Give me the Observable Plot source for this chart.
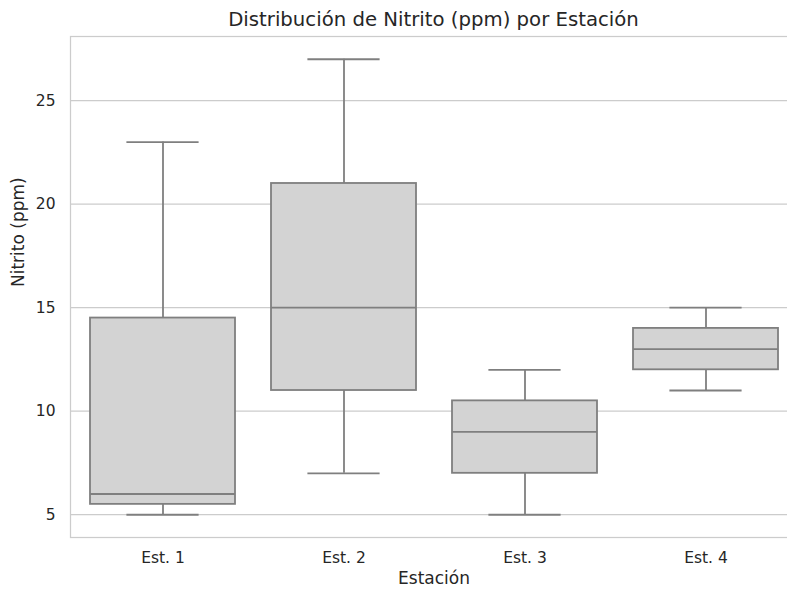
<!DOCTYPE html>
<html>
<head>
<meta charset="utf-8">
<script src="https://cdn.jsdelivr.net/npm/d3@7"></script>
<script src="https://cdn.jsdelivr.net/npm/@observablehq/plot@0.6"></script>
<style>
  html, body { margin: 0; padding: 0; background: #fff; width: 787px; height: 589px; overflow: hidden; }
  #wrap { position: relative; width: 787px; height: 589px; overflow: hidden; }
  #title { position: absolute; left: 0; top: 10px; width: 867px; text-align: center;
           font-family: "DejaVu Sans", sans-serif; font-size: 19.7px; line-height: 20px; color: #262626; white-space: nowrap; }
  #chart { position: absolute; left: 0; top: 0; width: 800px; height: 589px; }
  #chart svg { max-width: none !important; width: 800px !important; height: 589px !important; }
</style>
</head>
<body>
<div id="wrap">
  <div id="chart"></div>
  <div id="title">Distribución de Nitrito (ppm) por Estación</div>
</div>
<script>
const stations = ["Est. 1", "Est. 2", "Est. 3", "Est. 4"];
const whiskerLow = [5, 7, 5, 11];
const q1 = [5.5, 11, 7, 12];
const median = [6, 15, 9, 13];
const q3 = [14.5, 21, 10.5, 14];
const whiskerHigh = [23, 27, 12, 15];
const yTicks = [5, 10, 15, 20, 25];
const xLabel = "Estación";
const yLabel = "Nitrito (ppm)";

const rows = stations.map((s, i) => ({
  station: s, lo: whiskerLow[i], q1: q1[i], med: median[i], q3: q3[i], hi: whiskerHigh[i]
}));

const lineColor = "#7f7f7f";
const boxFill = "#d3d3d3";
const gridColor = "#cccccc";
const lw = 1.8;

const plot = Plot.plot({
  width: 800,
  height: 589,
  marginLeft: 70,
  marginRight: 3,
  marginTop: 36,
  marginBottom: 52,
  style: { fontFamily: "DejaVu Sans, sans-serif", color: "#262626", background: "#fff", overflow: "visible" },
  x: { type: "band", domain: stations, paddingInner: 0.2, paddingOuter: 0.1, label: null },
  y: { domain: [3.9, 28.1], label: null },
  marks: [
    Plot.gridY(yTicks, { stroke: gridColor, strokeOpacity: 1, strokeWidth: 1.25 }),
    Plot.frame({ stroke: gridColor, strokeOpacity: 1, strokeWidth: 1.25 }),
    Plot.axisY(yTicks, { tickSize: 0, tickPadding: 15, fontSize: 15.5, label: null }),
    Plot.axisX({ tickSize: 0, tickPadding: 14.5, fontSize: 15.5, label: null }),
    // whiskers
    Plot.ruleX(rows, { x: "station", y1: "q3", y2: "hi", stroke: lineColor, strokeWidth: lw }),
    Plot.ruleX(rows, { x: "station", y1: "lo", y2: "q1", stroke: lineColor, strokeWidth: lw }),
    // caps
    Plot.tickY(rows, { x: "station", y: "hi", stroke: lineColor, strokeWidth: lw, insetLeft: 36.4, insetRight: 36.4 }),
    Plot.tickY(rows, { x: "station", y: "lo", stroke: lineColor, strokeWidth: lw, insetLeft: 36.4, insetRight: 36.4 }),
    // boxes
    Plot.barY(rows, { x: "station", y1: "q1", y2: "q3", fill: boxFill, stroke: lineColor, strokeWidth: lw }),
    // medians
    Plot.tickY(rows, { x: "station", y: "med", stroke: lineColor, strokeWidth: lw }),
    // axis labels
    Plot.text([xLabel], { text: d => d, frameAnchor: "bottom", dy: 41, fontSize: 17, lineAnchor: "middle", fill: "#262626" }),
    Plot.text([yLabel], { text: d => d, frameAnchor: "left", dx: -51.5, rotate: -90, fontSize: 17, lineAnchor: "middle", fill: "#262626" })
  ]
});
document.getElementById("chart").appendChild(plot);
</script>
</body>
</html>
